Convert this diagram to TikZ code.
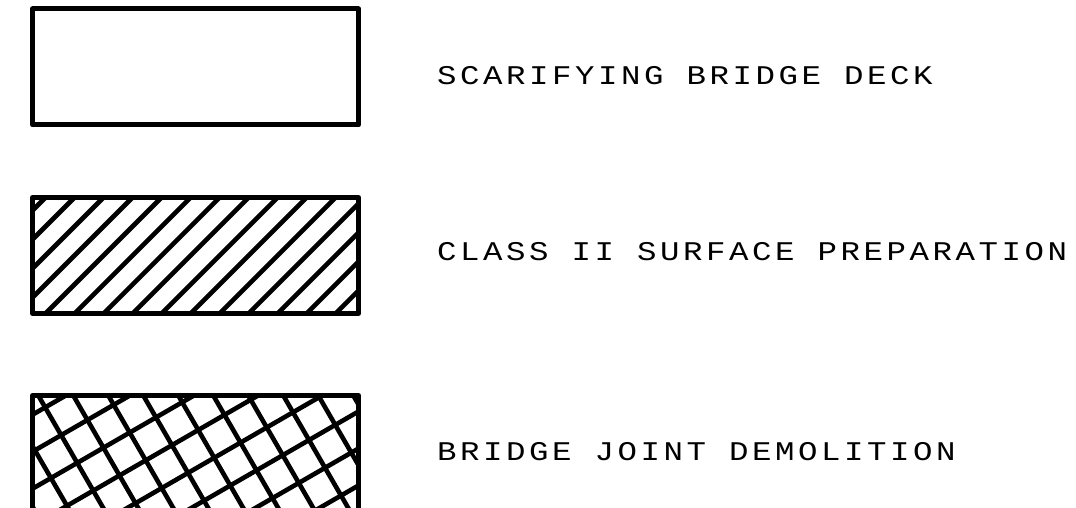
\documentclass[tikz,border=0pt]{standalone}
\usepackage{fontspec}
\newfontfamily\cadfont[FakeStretch=1.2,LetterSpace=13.2]{Liberation Mono}
\begin{document}
\begin{tikzpicture}[x=1pt,y=-1pt,
  legbox/.style={draw, line width=5pt, line join=round, minimum width=326pt, minimum height=116pt, inner sep=0pt, outer sep=0pt},
  hatch/.style={line width=4.6pt},
  legendtext/.style={anchor=base west, inner sep=0pt, font=\cadfont\fontsize{27}{30}\selectfont}]
\clip (0,0) rectangle (1076,508);
\fill[white] (0,0) rectangle (1076,508);

\node[legbox] (box1) at (195.5,67) {};
\node[legbox] (box2) at (195.5,255.5) {};
\node[legbox] (box3) at (195.5,453.5) {};

\begin{scope}
  \clip (box2.south west) rectangle (box2.north east);
  \foreach \k in {-5,...,15}{
    \pgfmathsetmacro\xo{45+29*\k}
    \draw[hatch] (\xo-150,348) -- (\xo+150,48);
  }
\end{scope}

\begin{scope}
  \clip (box3.south west) rectangle (box3.north east);
  \foreach \k in {-4,...,10}{
    \pgfmathsetmacro\xo{38+35*\k}
    \draw[hatch] (\xo-150,135.2) -- (\xo+150,654.8);
  }
  \foreach \k in {-2,...,9}{
    \pgfmathsetmacro\yo{415+37*\k}
    \draw[hatch] (-487.6,\yo+300) -- (551.6,\yo-300);
  }
\end{scope}

\node[legendtext] (t1) at (437,84.3) {SCARIFYING BRIDGE DECK};
\node[legendtext] (t2) at (437,260) {CLASS II SURFACE PREPARATION};
\node[legendtext] (t3) at (437,460.7) {BRIDGE JOINT DEMOLITION};
\end{tikzpicture}
\end{document}
